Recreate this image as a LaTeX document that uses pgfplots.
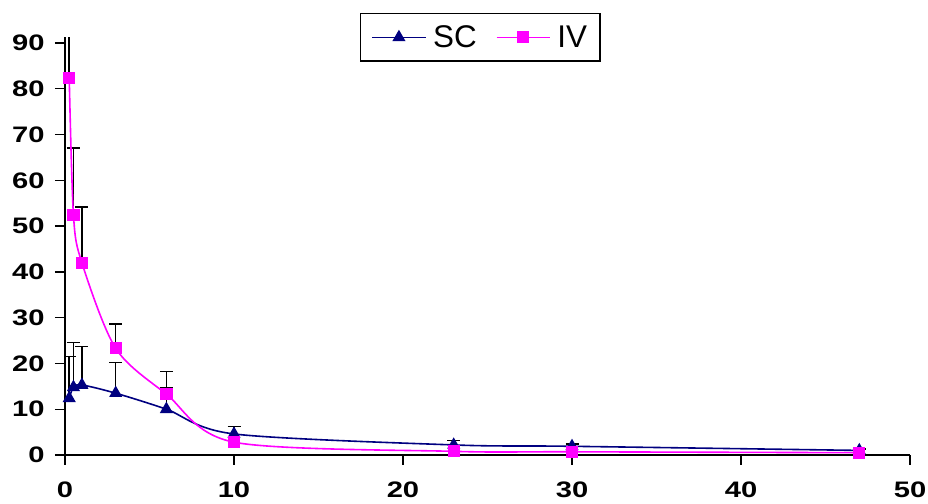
\documentclass[border=0pt]{standalone}
\usepackage{fontspec}
\setmainfont{Liberation Sans}
\newfontfamily\tickfont[FakeStretch=1.3]{Liberation Sans}
\usepackage{pgfplots}
\pgfplotsset{compat=1.18}

\definecolor{scblue}{RGB}{0,0,128}
\definecolor{ivpink}{RGB}{255,0,255}

% mean concentrations, upper error = SD
\pgfplotstableread{
x    y     e
0.25 12.4  9.1
0.5  14.8  9.8
1    15.3  8.4
3    13.5  6.7
6    10.0  4.6
10   4.6   1.6
23   2.2   1.0
30   1.9   0.5
47   1.0   0.3
}\sctable
\pgfplotstableread{
x    y     e
0.25 82.4  12.0
0.5  52.4  14.7
1    42.0  12.2
3    23.3  5.3
6    13.3  4.9
}\iverr
\pgfplotstableread{
x    y
0.25 82.4
0.5  52.4
1    42.0
3    23.3
6    13.3
10   2.8
23   0.8
30   0.7
47   0.5
}\ivtable

\begin{document}
\begin{tikzpicture}
\begin{axis}[
  scale only axis,
  width=845bp, height=417.5bp,
  xmin=0, xmax=50, ymin=0, ymax=91.2,
  xtick={0,10,...,50}, ytick={0,10,...,90},
  axis lines*=left,
  axis line style={black, line width=1.6bp},
  tick align=outside,
  major tick length=10bp,
  tick style={black, line width=1.4bp},
  /pgf/number format/assume math mode=true,
  tick label style={font=\tickfont\bfseries\fontsize{22.5}{22.5}\selectfont},
  xticklabel style={yshift=-13bp},
  yticklabel style={xshift=-7bp},
  legend columns=2,
  legend style={at={(0.3491,1.0587)}, anchor=north west,
    draw=black, line width=1.3bp, fill=white,
    font=\fontsize{31.5}{31.5}\selectfont,
    inner xsep=11bp, inner ysep=10bp,
    /tikz/every odd column/.append style={column sep=5bp},
    /tikz/every even column/.append style={column sep=17bp}},
  legend image code/.code={%
    \draw[mark repeat=2, mark phase=2, #1] plot coordinates {(0bp,0bp) (26.5bp,0bp) (53bp,0bp)};},
]
\addplot[only marks, mark=none, forget plot,
  error bars/.cd, y dir=plus, y explicit,
  error bar style={black, line width=1.5bp},
  error mark options={black, rotate=90, mark size=6.5bp, line width=1.5bp}]
  table[x=x, y=y, y error=e] {\sctable};
\addplot[only marks, mark=none, forget plot,
  error bars/.cd, y dir=plus, y explicit,
  error bar style={black, line width=1.5bp},
  error mark options={black, rotate=90, mark size=6.5bp, line width=1.5bp}]
  table[x=x, y=y, y error=e] {\iverr};
\addplot[scblue, line width=1.6bp, smooth, mark=triangle*,
  mark size=6bp, mark options={solid, fill=scblue}]
  table[x=x, y=y] {\sctable};
\addplot[ivpink, line width=1.6bp, smooth, mark=square*,
  mark size=5.3bp, mark options={solid, fill=ivpink}]
  table[x=x, y=y] {\ivtable};
\legend{SC, IV}
\end{axis}
\pgfresetboundingbox
\path[use as bounding box] (-65bp,-49bp) rectangle (863bp,455bp);
\end{tikzpicture}
\end{document}
